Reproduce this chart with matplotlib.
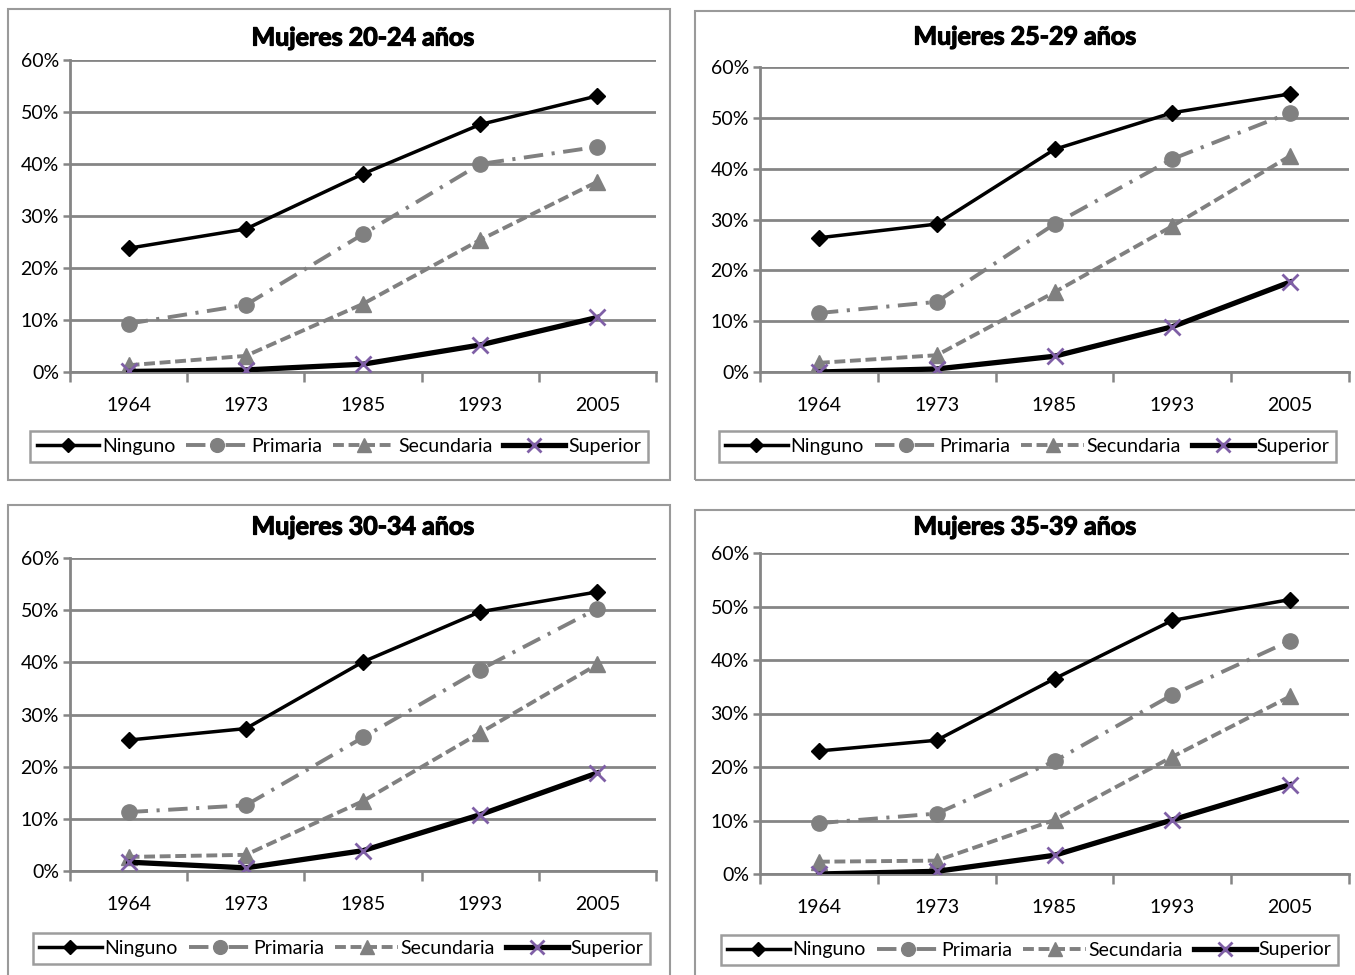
import matplotlib
matplotlib.use("Agg")
import matplotlib.pyplot as plt
import matplotlib.patheffects as pe
from matplotlib.patches import Rectangle
from matplotlib.ticker import FuncFormatter, FixedLocator

plt.rcParams['font.family'] = ['Lato', 'DejaVu Sans']

# Datos: porcentaje por nivel educativo y año censal
ANIOS = ['1964', '1973', '1985', '1993', '2005']
NIVELES = ['Ninguno', 'Primaria', 'Secundaria', 'Superior']
TITULOS = ['Mujeres 20-24 años', 'Mujeres 25-29 años',
           'Mujeres 30-34 años', 'Mujeres 35-39 años']

m2024_ninguno = [23.8, 27.5, 38.1, 47.6, 53.1]
m2024_primaria = [9.3, 12.9, 26.5, 40.0, 43.3]
m2024_secundaria = [1.3, 3.1, 13.1, 25.4, 36.6]
m2024_superior = [0.1, 0.4, 1.5, 5.2, 10.5]

m2529_ninguno = [26.4, 29.1, 43.8, 51.0, 54.7]
m2529_primaria = [11.6, 13.8, 29.1, 41.9, 51.0]
m2529_secundaria = [1.8, 3.3, 15.7, 28.7, 42.5]
m2529_superior = [0.0, 0.6, 3.1, 8.9, 17.7]

m3034_ninguno = [25.1, 27.3, 40.1, 49.7, 53.5]
m3034_primaria = [11.3, 12.6, 25.6, 38.6, 50.3]
m3034_secundaria = [2.7, 3.1, 13.4, 26.5, 39.6]
m3034_superior = [1.7, 0.6, 3.9, 10.8, 18.8]

m3539_ninguno = [23.0, 25.0, 36.5, 47.4, 51.3]
m3539_primaria = [9.5, 11.3, 21.1, 33.5, 43.6]
m3539_secundaria = [2.3, 2.5, 10.1, 21.9, 33.2]
m3539_superior = [0.0, 0.5, 3.5, 10.1, 16.7]

SERIES = [
    [m2024_ninguno, m2024_primaria, m2024_secundaria, m2024_superior],
    [m2529_ninguno, m2529_primaria, m2529_secundaria, m2529_superior],
    [m3034_ninguno, m3034_primaria, m3034_secundaria, m3034_superior],
    [m3539_ninguno, m3539_primaria, m3539_secundaria, m3539_superior],
]

W, H = 1355, 975
GRIS = '#858585'
GRIS_LINEA = '#808080'
MORADO = '#7f5fa6'

# cajas en pixeles: (x0, y0, x1, y1) con y desde arriba
MARCOS = [(8, 9, 670, 480), (695, 11, 1362, 480),
          (8, 505, 670, 990), (695, 510, 1362, 990)]
AREAS = [(70, 60, 656, 372), (760, 67, 1349, 372),
         (70, 558, 656, 871), (760, 553, 1349, 874)]
LEYENDAS = [(33, 430, 645, 463), (727, 428, 1328, 465),
            (33, 932, 650, 965), (727, 932, 1332, 968)]
TITULO_Y = [38, 37, 527, 527]

ESTILOS = [
    dict(color='black', lw=2.5, ls='-', marker='D', ms=8, mfc='black', mec='black'),
    dict(color=GRIS_LINEA, lw=2.8, dashes=(5, 2.2, 0.8, 2.2), marker='o', ms=11,
         mfc=GRIS_LINEA, mec=GRIS_LINEA),
    dict(color=GRIS_LINEA, lw=2.8, dashes=(2.8, 1.2), marker='^', ms=11,
         mfc=GRIS_LINEA, mec=GRIS_LINEA),
    dict(color='black', lw=3.8, ls='-', marker='x', ms=11, mew=2,
         mfc=MORADO, mec=MORADO),
]


def fig_rect(x0, y0, x1, y1):
    return [x0 / W, 1 - y1 / H, (x1 - x0) / W, (y1 - y0) / H]


fig = plt.figure(figsize=(W / 100, H / 100), dpi=100)

for i in range(4):
    # marco exterior del grafico
    fx, fy, fw, fh = fig_rect(*MARCOS[i])
    fig.patches.append(Rectangle((fx, fy), fw, fh, transform=fig.transFigure,
                                 fill=False, edgecolor='#9a9a9a', lw=1.5))

    ax = fig.add_axes(fig_rect(*AREAS[i]))
    x = range(len(ANIOS))
    lineas = []
    for serie, estilo, nombre in zip(SERIES[i], ESTILOS, NIVELES):
        ln, = ax.plot(x, serie, label=nombre, zorder=3, **estilo)
        lineas.append(ln)

    ax.set_xlim(-0.5, len(ANIOS) - 0.5)
    ax.set_ylim(0, 60)
    ax.set_yticks(range(0, 61, 10))
    ax.yaxis.set_major_formatter(FuncFormatter(lambda v, p: f'{v:.0f}%'))
    ax.set_xticks(list(x))
    ax.set_xticklabels(ANIOS)
    ax.xaxis.set_minor_locator(FixedLocator([k - 0.5 for k in range(len(ANIOS) + 1)]))
    ax.tick_params(axis='x', which='major', length=0, pad=18, labelsize=14)
    ax.tick_params(axis='x', which='minor', length=7, width=1.8, color=GRIS)
    ax.tick_params(axis='y', length=5, width=1.8, color=GRIS, labelsize=14, pad=3)
    ax.grid(axis='y', color=GRIS, lw=2.0, zorder=0)
    ax.set_axisbelow(True)
    for lado in ['top', 'right']:
        ax.spines[lado].set_visible(False)
    for lado in ['left', 'bottom']:
        ax.spines[lado].set_color(GRIS)
        ax.spines[lado].set_linewidth(2.0)

    xc = (AREAS[i][0] + AREAS[i][2]) / 2 if i % 2 == 0 else (MARCOS[i][0] + 1355) / 2
    fig.text(xc / W, 1 - TITULO_Y[i] / H, TITULOS[i], ha='center', va='center',
             fontsize=18, fontweight='bold',
             path_effects=[pe.withStroke(linewidth=0.9, foreground='black')])

    # leyenda centrada en su caja
    lx0, ly0, lx1, ly1 = LEYENDAS[i]
    leg = ax.legend(handles=lineas, loc='center', ncol=4,
                    bbox_to_anchor=((lx0 + lx1) / 2 / W, 1 - (ly0 + ly1) / 2 / H),
                    bbox_transform=fig.transFigure,
                    frameon=True, fancybox=False, fontsize=14, handlelength=3.2,
                    handletextpad=0.15, columnspacing=0.55, borderaxespad=0,
                    borderpad=0.35, markerscale=0.9)
    leg.get_frame().set_edgecolor(GRIS)
    leg.get_frame().set_linewidth(1.8)

fig.savefig('out.png', dpi=100)
